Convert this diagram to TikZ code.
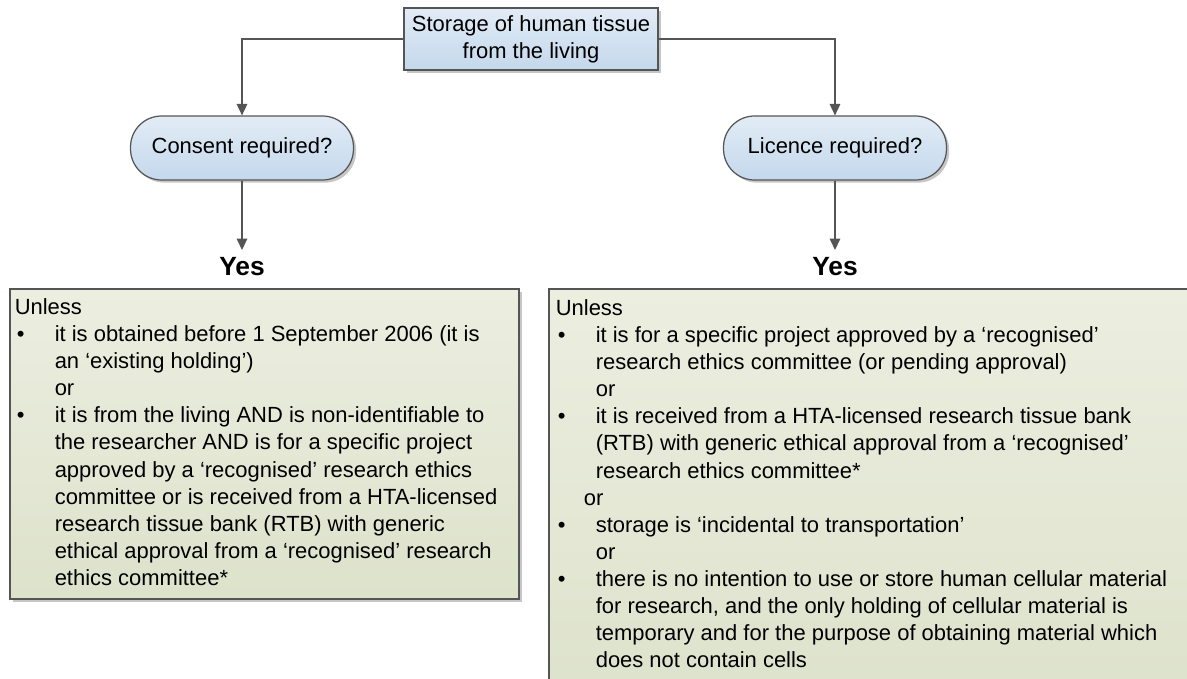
\documentclass[tikz,border=0pt]{standalone}
\usepackage{fontspec}
\setmainfont{Liberation Sans}
\usetikzlibrary{positioning, arrows.meta, shadows}

% bullet and indent for the list lines
\newcommand{\bl}{\makebox[0.8cm][l]{\hspace{0.04cm}\textbullet}}
\newcommand{\ind}{\hspace*{0.8cm}}

\begin{document}
\begin{tikzpicture}[x=0.02cm, y=-0.02cm,
    link/.style={draw=linegray, line width=0.8pt, -{Triangle[length=6.5pt, width=6pt]}},
    startbox/.style={draw=linegray, line width=0.7pt, top color=bluetop, bottom color=bluebot,
        drop shadow={shadow xshift=1.5pt, shadow yshift=-1.5pt, opacity=0.45},
        minimum width=5.08cm, minimum height=1.24cm, inner sep=0pt, align=center,
        font=\fontsize{12.5}{15.4}\selectfont},
    question/.style={startbox, rounded corners=0.62cm, minimum width=4.46cm, minimum height=1.28cm},
    answer/.style={font=\fontsize{15}{18}\selectfont\bfseries, inner sep=4pt, anchor=north},
    notebox/.style={draw=linegray, line width=0.7pt, top color=greentop, bottom color=greenbot,
        drop shadow={shadow xshift=1.5pt, shadow yshift=-1.5pt, opacity=0.45}, inner sep=0pt},
    body/.style={font=\fontsize{12.5}{15.4}\selectfont, align=left, inner sep=0pt, anchor=north west}]

    % Colours
    \definecolor{linegray}{RGB}{85,85,85}
    \definecolor{bluetop}{RGB}{226,236,246}
    \definecolor{bluebot}{RGB}{196,216,236}
    \definecolor{greentop}{RGB}{236,238,224}
    \definecolor{greenbot}{RGB}{221,226,203}

    % Picture frame
    \useasboundingbox (0,0) rectangle (1187,679);

    % Top box and the two questions
    \node[startbox] (store) at (531,39) {Storage of human tissue\\from the living};
    \node[question] (consent) at (242,148) {Consent required?};
    \node[question] (licence) at (835,148) {Licence required?};

    % Answers
    \node[answer] (yesl) at (242,250) {Yes};
    \node[answer] (yesr) at (835,250) {Yes};

    % Connectors
    \draw[link] (store.west) -| (consent.north);
    \draw[link] (store.east) -| (licence.north);
    \draw[link] (consent.south) -- (yesl.north);
    \draw[link] (licence.south) -- (yesr.north);

    % Boxes with the exceptions (the right one runs off the page)
    \node[notebox, minimum width=10.18cm, minimum height=6.2cm] (lbox) at (264.5,444) {};
    \node[notebox, minimum width=13.2cm, minimum height=8.4cm] (rbox) at (879,499) {};

    \node[body] (ltext) at ([shift={(5,10)}]lbox.north west) {%
        Unless\\
        \bl it is obtained before 1 September 2006 (it is\\
        \ind an `existing holding')\\
        \ind or\\
        \bl it is from the living AND is non-identifiable to\\
        \ind the researcher AND is for a specific project\\
        \ind approved by a `recognised' research ethics\\
        \ind committee or is received from a HTA-licensed\\
        \ind research tissue bank (RTB) with generic\\
        \ind ethical approval from a `recognised' research\\
        \ind ethics committee*};

    \node[body] (rtext) at ([shift={(7,11)}]rbox.north west) {%
        Unless\\
        \bl it is for a specific project approved by a `recognised'\\
        \ind research ethics committee (or pending approval)\\
        \ind or\\
        \bl it is received from a HTA-licensed research tissue bank\\
        \ind (RTB) with generic ethical approval from a `recognised'\\
        \ind research ethics committee*\\
        \hspace*{0.56cm}or\\
        \bl storage is `incidental to transportation'\\
        \ind or\\
        \bl there is no intention to use or store human cellular material\\
        \ind for research, and the only holding of cellular material is\\
        \ind temporary and for the purpose of obtaining material which\\
        \ind does not contain cells};

\end{tikzpicture}
\end{document}
